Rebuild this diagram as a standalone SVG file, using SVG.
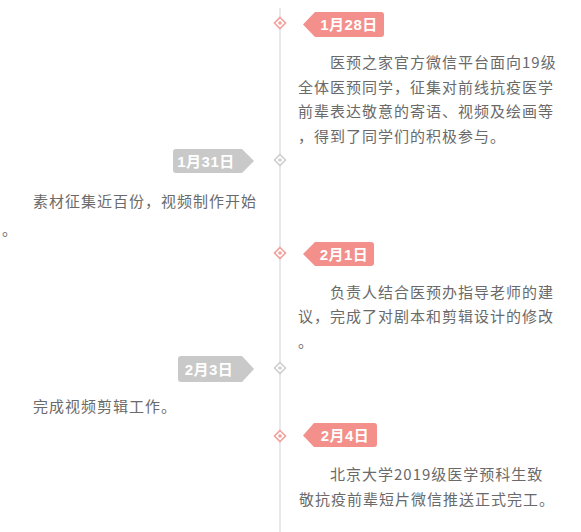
<svg xmlns="http://www.w3.org/2000/svg" width="581" height="532" viewBox="0 0 581 532">
<defs>
<style>
.t{font-family:"Noto Sans CJK SC","Noto Sans",sans-serif;font-size:15px;fill:#6a6a6a;letter-spacing:1px}
.tag{font-family:"Liberation Sans","Noto Sans CJK SC",sans-serif;font-size:15px;font-weight:bold;fill:#fff;text-anchor:middle;letter-spacing:0.5px}
.pk{fill:#f3908b}
.gy{fill:#c9c9c9}
.dp{fill:#fff;stroke:#f3a09c;stroke-width:1.6}
.dg{fill:#fff;stroke:#cfcfcf;stroke-width:1.6}
</style>
</defs>
<rect width="581" height="532" fill="#fff"/>
<g id="connectors">
<line x1="280" y1="8" x2="280" y2="532" stroke="#e8e8ea" stroke-width="2"/>
</g>
<g id="e1">
<path class="dp" d="M280 17.5 L285.5 23 L280 28.5 L274.5 23 Z"/><circle cx="280" cy="23" r="1.8" fill="#f3a09c"/>
<path class="pk" d="M303 24.5 L315 12 L381 12 Q384 12 384 15 L384 34 Q384 37 381 37 L315 37 Z"/>
<text class="tag" x="349" y="30">1月28日</text>
<text class="t" x="330" y="68">医预之家官方微信平台面向19级</text>
<text class="t" x="298" y="93">全体医预同学，征集对前线抗疫医学</text>
<text class="t" x="298" y="117">前辈表达敬意的寄语、视频及绘画等</text>
<text class="t" x="298" y="142">，得到了同学们的积极参与。</text>
</g>
<g id="e2">
<path class="dg" d="M280 154.5 L285.5 160 L280 165.5 L274.5 160 Z"/><circle cx="280" cy="160" r="1.8" fill="#cfcfcf"/>
<path class="gy" d="M254 161 L242 149 L176 149 Q173 149 173 152 L173 170 Q173 173 176 173 L242 173 Z"/>
<text class="tag" x="206" y="166.5">1月31日</text>
<text class="t" x="33" y="207">素材征集近百份，视频制作开始</text>
<text class="t" x="2" y="235">。</text>
</g>
<g id="e3">
<path class="dp" d="M280 247.5 L285.5 253 L280 258.5 L274.5 253 Z"/><circle cx="280" cy="253" r="1.8" fill="#f3a09c"/>
<path class="pk" d="M303 254 L315 242 L371 242 Q374 242 374 245 L374 263 Q374 266 371 266 L315 266 Z"/>
<text class="tag" x="344" y="259.5">2月1日</text>
<text class="t" x="330" y="298">负责人结合医预办指导老师的建</text>
<text class="t" x="298" y="322">议，完成了对剧本和剪辑设计的修改</text>
<text class="t" x="298" y="347">。</text>
</g>
<g id="e4">
<path class="dg" d="M280 362.5 L285.5 368 L280 373.5 L274.5 368 Z"/><circle cx="280" cy="368" r="1.8" fill="#cfcfcf"/>
<path class="gy" d="M254 369 L242 356 L181 356 Q178 356 178 359 L178 379 Q178 382 181 382 L242 382 Z"/>
<text class="tag" x="209" y="374.5">2月3日</text>
<text class="t" x="33" y="412">完成视频剪辑工作。</text>
</g>
<g id="e5">
<path class="dp" d="M280 430.5 L285.5 436 L280 441.5 L274.5 436 Z"/><circle cx="280" cy="436" r="1.8" fill="#f3a09c"/>
<path class="pk" d="M303 435.5 L314 423 L374 423 Q377 423 377 426 L377 444 Q377 447 374 447 L314 447 Z"/>
<text class="tag" x="345" y="441">2月4日</text>
<text class="t" x="330" y="480">北京大学2019级医学预科生致</text>
<text class="t" x="299" y="505">敬抗疫前辈短片微信推送正式完工。</text>
</g>
</svg>
